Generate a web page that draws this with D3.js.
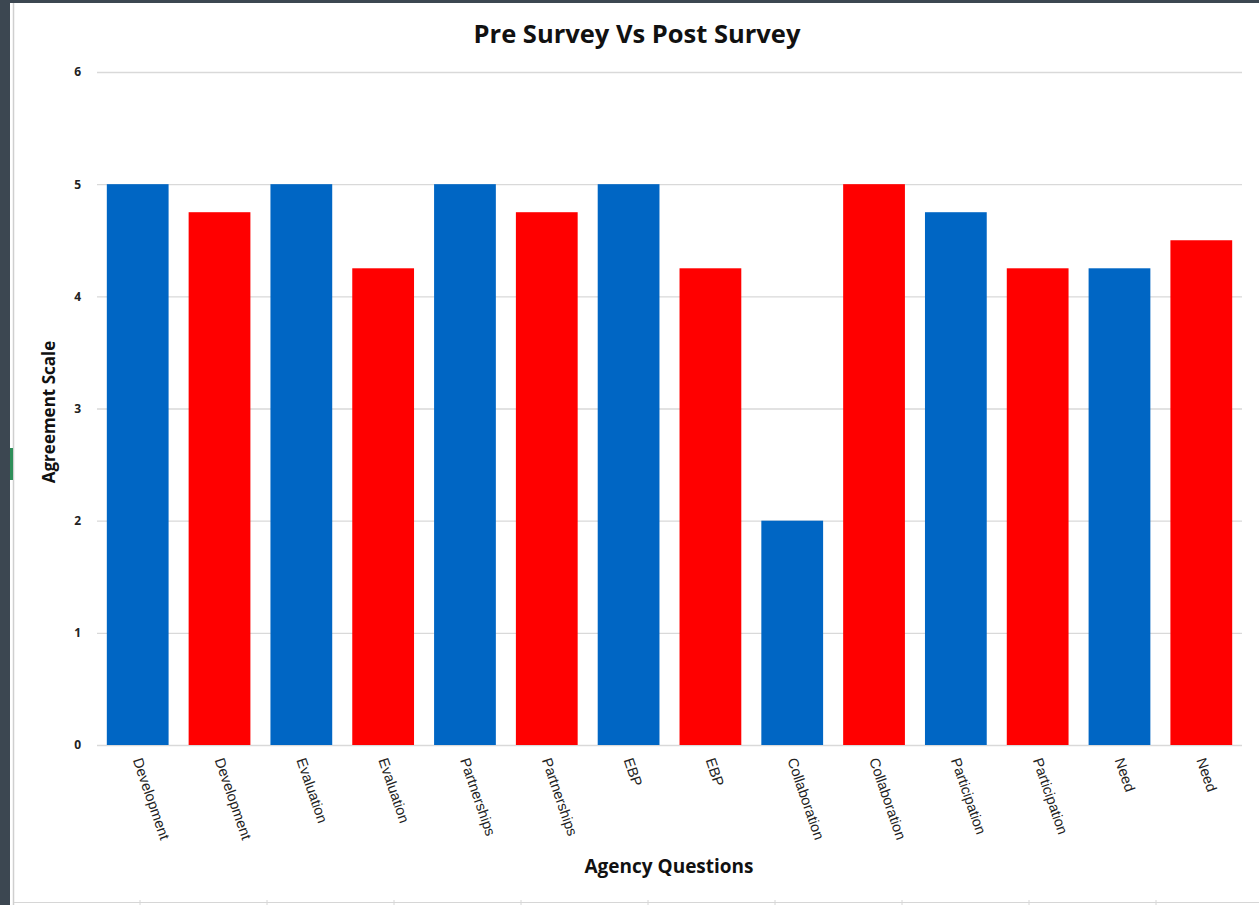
<!DOCTYPE html>
<html>
<head>
<meta charset="utf-8">
<script src="https://cdn.jsdelivr.net/npm/d3@7"></script>
<style>
  html, body { margin: 0; padding: 0; background: #fff; }
  svg { display: block; }
</style>
</head>
<body>
<div id="chart"></div>
<script>
const categories = ['Development', 'Development', 'Evaluation', 'Evaluation', 'Partnerships', 'Partnerships',
  'EBP', 'EBP', 'Collaboration', 'Collaboration', 'Participation', 'Participation', 'Need', 'Need'];
const values = [5, 4.75, 5, 4.25, 5, 4.75, 5, 4.25, 2, 5, 4.75, 4.25, 4.25, 4.5];
const barColors = ['#0066c4', '#ff0000'];
const yTicks = [0, 1, 2, 3, 4, 5, 6];

const W = 1259, H = 905;
const margin = { top: 72, right: 17, bottom: 160, left: 97 };
const width = W - margin.left - margin.right;
const height = H - margin.top - margin.bottom;

const root = d3.select('#chart').append('svg')
  .attr('width', W)
  .attr('height', H);

// screenshot frame (dark window edge)
root.append('rect').attr('x', 0).attr('y', 0).attr('width', W).attr('height', 3).attr('fill', '#3c4751');
root.append('rect').attr('x', 0).attr('y', 0).attr('width', 10).attr('height', H).attr('fill', '#3c4751');
root.append('line').attr('x1', 13.5).attr('x2', 13.5).attr('y1', 3).attr('y2', H)
  .attr('stroke', '#cfcfcf').attr('stroke-width', 1.5);
root.append('rect').attr('x', 10).attr('y', 448).attr('width', 3).attr('height', 32).attr('fill', '#2f8f5a');
root.append('line').attr('x1', 14).attr('x2', W).attr('y1', 902.5).attr('y2', 902.5)
  .attr('stroke', '#d6d6d6');
root.selectAll('.cellTick')
  .data(d3.range(140, W, 127))
  .enter().append('line')
  .attr('x1', d => d).attr('x2', d => d).attr('y1', 900).attr('y2', H)
  .attr('stroke', '#d6d6d6');

const svg = root.append('g')
  .attr('transform', `translate(${margin.left},${margin.top})`);

const x = d3.scaleBand()
  .domain(d3.range(categories.length))
  .range([0, width])
  .paddingInner(0.245)
  .paddingOuter(0.12);

const y = d3.scaleLinear()
  .domain([0, 6])
  .range([height, 0]);

// gridlines
svg.append('g')
  .call(d3.axisLeft(y).tickValues(yTicks).tickSize(-width).tickFormat(d => d).tickPadding(16))
  .call(g => {
    g.select('.domain').remove();
    g.selectAll('.tick line').attr('stroke', '#d9d9d9').attr('stroke-width', 1.3);
    g.selectAll('.tick text')
      .attr('fill', '#222')
      .style('font-family', 'Open Sans, sans-serif')
      .style('font-weight', 'bold')
      .style('font-size', '12px');
  });

// bars
svg.selectAll('.bar')
  .data(values)
  .enter().append('rect')
  .attr('class', 'bar')
  .attr('x', (d, i) => x(i))
  .attr('y', d => y(d))
  .attr('width', x.bandwidth())
  .attr('height', d => height - y(d))
  .attr('fill', (d, i) => barColors[i % 2]);

// x axis labels (tilted)
svg.append('g')
  .attr('transform', `translate(0,${height})`)
  .call(d3.axisBottom(x).tickFormat(i => categories[i]).tickSize(0))
  .call(g => {
    g.select('.domain').remove();
    g.selectAll('.tick text')
      .attr('text-anchor', 'start')
      .attr('x', 0)
      .attr('y', 0)
      .attr('dy', 0)
      .attr('transform', 'translate(-5,15) rotate(71)')
      .attr('fill', '#222')
      .style('font-family', 'Liberation Sans, Arial, sans-serif')
      .style('font-size', '14.5px');
  });

// titles
root.append('text')
  .attr('x', 637)
  .attr('y', 43)
  .attr('text-anchor', 'middle')
  .style('font-family', 'Open Sans, sans-serif')
  .style('font-weight', 'bold')
  .style('font-size', '25.5px')
  .attr('fill', '#111')
  .text('Pre Survey Vs Post Survey');

root.append('text')
  .attr('x', 669)
  .attr('y', 873)
  .attr('text-anchor', 'middle')
  .style('font-family', 'Open Sans, sans-serif')
  .style('font-weight', 'bold')
  .style('font-size', '19px')
  .attr('fill', '#111')
  .text('Agency Questions');

root.append('text')
  .attr('transform', 'translate(55,412) rotate(-90)')
  .attr('text-anchor', 'middle')
  .style('font-family', 'Open Sans, sans-serif')
  .style('font-weight', 'bold')
  .style('font-size', '17px')
  .attr('fill', '#111')
  .text('Agreement Scale');
</script>
</body>
</html>
